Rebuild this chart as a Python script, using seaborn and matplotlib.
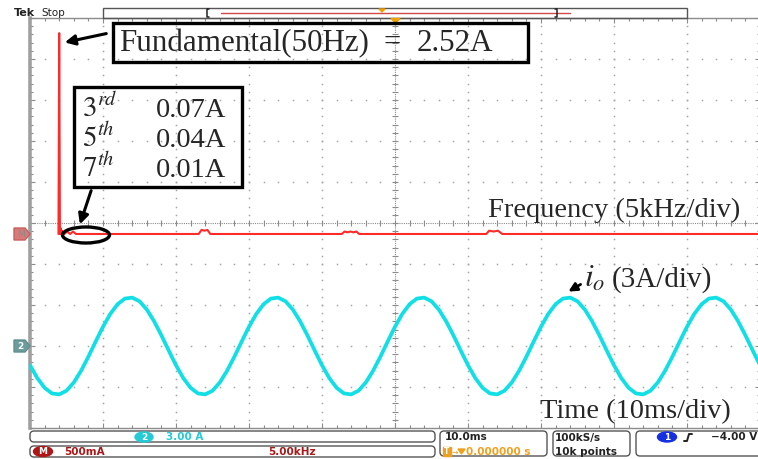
import numpy as np
import pandas as pd
import matplotlib
matplotlib.use("Agg")
import matplotlib.pyplot as plt
import seaborn as sns
from matplotlib.patches import FancyBboxPatch, Ellipse, Rectangle, Polygon

# ---------------- data ----------------
time_ms = list(range(0, 101))
current_A = [
    -1.41, -2.35, -3.06, -3.47, -3.54, -3.27, -2.67, -1.81, -0.78, 0.33,
    1.41, 2.35, 3.06, 3.47, 3.54, 3.27, 2.67, 1.81, 0.78, -0.33,
    -1.41, -2.35, -3.06, -3.47, -3.54, -3.27, -2.67, -1.81, -0.78, 0.33,
    1.41, 2.35, 3.06, 3.47, 3.54, 3.27, 2.67, 1.81, 0.78, -0.33,
    -1.41, -2.35, -3.06, -3.47, -3.54, -3.27, -2.67, -1.81, -0.78, 0.33,
    1.41, 2.35, 3.06, 3.47, 3.54, 3.27, 2.67, 1.81, 0.78, -0.33,
    -1.41, -2.35, -3.06, -3.47, -3.54, -3.27, -2.67, -1.81, -0.78, 0.33,
    1.41, 2.35, 3.06, 3.47, 3.54, 3.27, 2.67, 1.81, 0.78, -0.33,
    -1.41, -2.35, -3.06, -3.47, -3.54, -3.27, -2.67, -1.81, -0.78, 0.33,
    1.41, 2.35, 3.06, 3.47, 3.54, 3.27, 2.67, 1.81, 0.78, -0.33,
    -1.41,
]

freq_kHz = [0.0, 0.05, 0.10, 0.15, 0.20, 0.25, 0.30, 0.35, 0.40, 0.6, 0.8, 1.0, 1.2,
            9.6, 9.8, 10.0, 10.2, 10.4,
            19.4, 19.6, 19.8, 20.0, 20.2, 20.4, 20.6,
            29.3, 29.5, 29.8, 30.1, 30.4, 48.1]
amp_A = [0.0, 2.45, 0.0, 0.07, 0.0, 0.04, 0.0, 0.01, 0.0, 0.03, 0.0, 0.03, 0.0,
         0.0, 0.05, 0.04, 0.05, 0.0,
         0.0, 0.03, 0.02, 0.03, 0.02, 0.03, 0.0,
         0.0, 0.04, 0.03, 0.04, 0.0, 0.0]

harm_orders = ["3", "5", "7"]
harm_suffix = ["rd", "th", "th"]
harm_values = ["0.07A", "0.04A", "0.01A"]

wave_df = pd.DataFrame({"t": time_ms, "i": current_A})
spec_df = pd.DataFrame({"f": freq_kHz, "a": amp_A})

# ---------------- figure ----------------
sns.set_style("white")
plt.rcParams["mathtext.fontset"] = "stix"
W, H = 758, 459
fig = plt.figure(figsize=(W / 100, H / 100), dpi=100)
fig.patch.set_facecolor("white")

gl, gr, gt, gb = 30, 760, 18, 428
pos = [gl / W, 1 - gb / H, (gr - gl) / W, (gb - gt) / H]

GRID = "#8c8c8c"
# graticule
ax_g = fig.add_axes(pos)
ax_g.set_xlim(0, 10)
ax_g.set_ylim(0, 10)
ax_g.set_xticks(range(11))
ax_g.set_yticks(range(11))
ax_g.set_xticks(np.arange(0, 10.01, 0.2), minor=True)
ax_g.set_yticks(np.arange(0, 10.01, 0.2), minor=True)
ax_g.tick_params(which="both", direction="in", top=True, right=True, bottom=True, left=True,
                 labelbottom=False, labelleft=False, color=GRID, width=0.8)
ax_g.tick_params(which="major", length=3.5)
ax_g.tick_params(which="minor", length=2.2)
for s in ax_g.spines.values():
    s.set_color(GRID)
    s.set_linewidth(1.0)
ax_g.spines["left"].set_linewidth(2.6)
ax_g.spines["left"].set_color("#a0a0a0")
minor = np.arange(0, 10.01, 0.2)
for k in range(1, 10):
    if k == 5:
        continue
    ax_g.plot(np.full_like(minor, k), minor, ls="none", marker="s", ms=1.1, color="#a5a5a5", mew=0)
    ax_g.plot(minor, np.full_like(minor, k), ls="none", marker="s", ms=1.1, color="#a5a5a5", mew=0)
ax_g.axhline(5, color=GRID, lw=0.8, ls=(0, (1, 1)))
ax_g.axvline(5, color=GRID, lw=0.8, ls=(0, (1, 1)))
ax_g.plot(minor, np.full_like(minor, 5), ls="none", marker="|", ms=4.5, color=GRID, mew=0.8)
ax_g.plot(np.full_like(minor, 5), minor, ls="none", marker="_", ms=4.5, color=GRID, mew=0.8)

# spectrum (math channel, 5 kHz/div, 500 mA/div)
ax_f = fig.add_axes(pos)
ax_f.patch.set_alpha(0)
sns.lineplot(data=spec_df, x="f", y="a", ax=ax_f, color="#ff2a2a", lw=1.5, sort=False, estimator=None)
ax_f.set_xlim(-1.95, 48.05)
ax_f.set_ylim(-4.732 * 0.5, 5.268 * 0.5)
ax_f.axis("off")

# current waveform (10 ms/div, 3 A/div)
ax_t = fig.add_axes(pos)
ax_t.patch.set_alpha(0)
sns.lineplot(data=wave_df, x="t", y="i", ax=ax_t, color="#10e0e6", lw=2.7, sort=False, estimator=None)
ax_t.set_xlim(0, 100)
ax_t.set_ylim(-6, 24)
ax_t.axis("off")

# ---------------- overlay (pixel coordinates) ----------------
ui = fig.add_axes([0, 0, 1, 1])
ui.set_xlim(0, W)
ui.set_ylim(H, 0)
ui.axis("off")
ui.patch.set_alpha(0)

# header
ui.text(14, 13.5, "Tek", fontsize=8, fontweight="bold", va="center", ha="left", color="#222")
ui.text(41, 13.5, "Stop", fontsize=7.5, va="center", ha="left", color="#222")
ui.add_patch(Rectangle((103, 8), 584, 10, fill=False, ec="#555", lw=1))
ui.plot([221, 570], [12.5, 12.5], color="#d04a4a", lw=1)
ui.plot([209, 207, 207, 209], [9, 9, 17, 17], color="#222", lw=1.1)
ui.plot([555, 557, 557, 555], [9, 9, 17, 17], color="#222", lw=1.1)
ui.add_patch(Polygon([(379, 9), (385, 9), (382, 12)], color="#f0a000"))
ui.add_patch(Polygon([(391, 18.5), (400, 18.5), (395.5, 23)], color="#f0a000"))

# channel markers
ui.add_patch(Polygon([(14, 228), (25, 228), (30, 234), (25, 240), (14, 240)], fc="#d97a7a", ec="#c86060"))
ui.text(20.5, 234.5, "M", fontsize=6.5, color="#8a8a8a", ha="center", va="center")
ui.add_patch(Polygon([(14, 340), (25, 340), (30, 346), (25, 352), (14, 352)], fc="#6d9c9c", ec="#5f8f8f"))
ui.text(20.5, 346.5, "2", fontsize=6.5, color="white", ha="center", va="center", fontweight="bold")

# annotations
SERIF = "Liberation Serif"
ui.add_patch(Rectangle((113, 22.5), 415, 39, fill=False, ec="black", lw=2.4))
ui.text(119, 51, "Fundamental(50Hz)", fontsize=22.3, family=SERIF, ha="left", va="baseline")
ui.text(392.5, 51, "=", fontsize=22, family=SERIF, ha="center", va="baseline")
ui.text(417, 51, "2.52A", fontsize=22.3, family=SERIF, ha="left", va="baseline")
ui.annotate("", xy=(62, 43), xytext=(109, 33),
            arrowprops=dict(arrowstyle="-|>,head_length=0.6,head_width=0.3", color="black", lw=2.2))

ui.add_patch(Rectangle((74, 87), 168, 100, fill=False, ec="black", lw=2.4))
for k, (o, s_, v) in enumerate(zip(harm_orders, harm_suffix, harm_values)):
    yb = 117 + 30 * k
    ui.text(82, yb, "$\\mathrm{" + o + "}^{" + s_ + "}$", fontsize=21, ha="left", va="baseline")
    ui.text(226, yb, v, fontsize=20.5, family=SERIF, ha="right", va="baseline")
ui.annotate("", xy=(79, 227), xytext=(92, 188),
            arrowprops=dict(arrowstyle="-|>,head_length=0.6,head_width=0.3", color="black", lw=2.2))
ui.add_patch(Ellipse((86, 235), 47, 16, fill=False, ec="black", lw=2.4))

ui.text(488, 217, "Frequency (5kHz/div)", fontsize=20.5, family=SERIF, ha="left", va="baseline")
ui.text(584, 287, "$i_o$", fontsize=23, ha="left", va="baseline")
ui.text(612, 287, "(3A/div)", fontsize=21, family=SERIF, ha="left", va="baseline")
ui.annotate("", xy=(566, 293), xytext=(583, 283),
            arrowprops=dict(arrowstyle="-|>,head_length=0.5,head_width=0.25", color="black", lw=2.0))
ui.text(540, 418, "Time (10ms/div)", fontsize=20.5, family=SERIF, ha="left", va="baseline")

# bottom status boxes
def rbox(x, y, w, h):
    ui.add_patch(FancyBboxPatch((x, y), w, h, boxstyle="round,pad=0,rounding_size=4",
                                fill=False, ec="#555", lw=1))

rbox(30, 431, 405, 11)
rbox(30, 446, 405, 11)
rbox(440, 431, 107, 25)
rbox(553, 431, 77, 25)
rbox(636, 431, 140, 25)

UIF = 7.5
BW = "bold"
ui.add_patch(Ellipse((144, 437), 18, 10, color="#22cbd6"))
ui.text(144, 437.5, "2", fontsize=6.5, color="white", ha="center", va="center", fontweight="bold")
ui.text(166, 437.5, "3.00 A", fontsize=UIF, color="#22cbd6", ha="left", va="center", fontweight=BW)
ui.add_patch(Ellipse((43, 451.5), 19, 10, color="#b01616"))
ui.text(43, 452, "M", fontsize=6.5, color="white", ha="center", va="center", fontweight="bold")
ui.text(64, 452, "500mA", fontsize=UIF, color="#a81818", ha="left", va="center", fontweight=BW)
ui.text(268, 452, "5.00kHz", fontsize=UIF, color="#a81818", ha="left", va="center", fontweight=BW)
ui.text(445, 437.5, "10.0ms", fontsize=UIF, color="#222", ha="left", va="center", fontweight=BW)
ui.add_patch(Rectangle((443, 447), 8, 9, color="#f0a020"))
ui.text(447, 452, "T", fontsize=5.5, color="white", ha="center", va="center", fontweight="bold")
ui.text(452, 452, "→", fontsize=5.5, color="#f0a020", ha="left", va="center")
ui.add_patch(Polygon([(458, 449), (465, 449), (461.5, 454)], color="#f0a020"))
ui.text(466, 452, "0.000000 s", fontsize=UIF, color="#f0a020", ha="left", va="center", fontweight=BW)
ui.text(555, 437.5, "100kS/s", fontsize=UIF, color="#222", ha="left", va="center", fontweight=BW)
ui.text(555, 452, "10k points", fontsize=UIF, color="#222", ha="left", va="center", fontweight=BW)
ui.add_patch(Ellipse((667, 437), 19, 10, color="#1430e0"))
ui.text(667, 437.5, "1", fontsize=6.5, color="white", ha="center", va="center", fontweight="bold")
ui.plot([684, 687, 689, 692], [441, 441, 434, 434], color="#222", lw=1.4)
ui.text(711, 437.5, "\u22124.00 V", fontsize=UIF, color="#222", ha="left", va="center", fontweight=BW)

fig.savefig("out.png", dpi=100, facecolor="white")
